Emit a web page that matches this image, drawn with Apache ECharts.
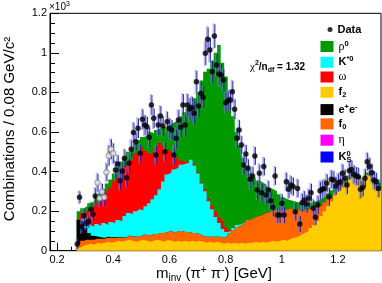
<!DOCTYPE html>
<html><head><meta charset="utf-8">
<script src="https://cdn.jsdelivr.net/npm/echarts@6/dist/echarts.min.js"></script>
<style>html,body{margin:0;padding:0;background:#fff}#c{width:382px;height:283px}</style>
</head><body><div id="c"></div>
<script>
// ---- histogram bin edges (GeV) ----
const binEdges = [0.27,0.2825,0.295,0.3075,0.32,0.3325,0.345,0.3575,0.37,0.3825,0.395,0.4075,0.42,0.4325,0.445,0.4575,0.47,0.4825,0.495,0.5075,0.52,0.5325,0.545,0.5575,0.57,0.5825,0.595,0.6075,0.62,0.6325,0.645,0.6575,0.67,0.6825,0.695,0.7075,0.72,0.7325,0.745,0.7575,0.77,0.7825,0.795,0.8075,0.82,0.8325,0.845,0.8575,0.87,0.8825,0.895,0.9075,0.92,0.9325,0.945,0.9575,0.97,0.9825,0.995,1.0075,1.02,1.0325,1.045,1.0575,1.07,1.0825,1.095,1.1075,1.12,1.1325,1.145,1.1575,1.17,1.1825,1.195,1.2075,1.22,1.2325,1.245,1.2575,1.27,1.2825,1.295,1.3075,1.32,1.3325,1.345,1.3575];

// ---- stacked MC components (x10^3 per bin) ----
const f2Vals = [0.015,0.025,0.03,0.035,0.03,0.04,0.035,0.04,0.045,0.04,
 0.045,0.05,0.045,0.05,0.055,0.05,0.045,0.05,0.055,0.05,
 0.045,0.05,0.055,0.05,0.045,0.055,0.05,0.045,0.05,0.045,
 0.05,0.045,0.05,0.045,0.05,0.045,0.04,0.045,0.04,0.045,
 0.04,0.035,0.04,0.035,0.04,0.035,0.04,0.035,0.04,0.04,
 0.045,0.04,0.045,0.04,0.045,0.05,0.045,0.05,0.055,0.05,
 0.06,0.065,0.07,0.08,0.09,0.1,0.115,0.13,0.15,0.175,
 0.2,0.225,0.25,0.28,0.3,0.32,0.34,0.36,0.38,0.375,
 0.36,0.33,0.38,0.37,0.335,0.32,0.31];
const f0Vals = [0.02,0.025,0.025,0.02,0.025,0.02,0.025,0.02,0.02,0.025,
 0.02,0.015,0.02,0.015,0.02,0.02,0.025,0.02,0.025,0.03,
 0.03,0.035,0.03,0.04,0.045,0.04,0.05,0.045,0.05,0.055,
 0.045,0.05,0.04,0.045,0.035,0.03,0.03,0.025,0.03,0.025,
 0.03,0.03,0.035,0.055,0.065,0.085,0.09,0.105,0.115,0.12,
 0.125,0.135,0.135,0.15,0.15,0.15,0.16,0.16,0.15,0.16,
 0.155,0.14,0.14,0.12,0.115,0.11,0.1,0.09,0.075,0.055,
 0.045,0.035,0.02,0.015,0.01,0.008,0.006,0.005,0.005,0.004,
 0.004,0.003,0.003,0.003,0.002,0.002,0.002];
const eeVals = [0.12,0.1,0.06,0.035,0.02,0.012,0.008,0.006,0.005,0.004,
 0.004,0.003,0.003,0.002,0.002,0.002,0.001,0.001,0.001,0.001,
 0,0,0,0,0,0,0,0,0,0, 0,0,0,0,0,0,0,0,0,0, 0,0,0,0,0,0,0,0,0,0,
 0,0,0,0,0,0,0,0,0,0, 0,0,0,0,0,0,0,0,0,0, 0,0,0,0,0,0,0,0,0,0,
 0,0,0,0,0,0,0];
const kstarVals = [0,0.01,0.025,0.04,0.045,0.063,0.057,0.074,0.06,0.076,
 0.071,0.087,0.082,0.108,0.113,0.113,0.129,0.139,0.124,0.144,
 0.165,0.175,0.195,0.22,0.26,0.29,0.295,0.32,0.32,0.335,
 0.345,0.35,0.37,0.34,0.305,0.265,0.23,0.18,0.14,0.1,
 0.07,0.045,0.02,0.01,0.01,0.01,0.005,0.005,0,0,
 0,0,0,0,0,0,0,0,0,0, 0,0,0,0,0,0,0,0,0,0, 0,0,0,0,0,0,0,0,0,0,
 0,0,0,0,0,0,0];
const omegaVals = [0.005,0.03,0.06,0.08,0.1,0.105,0.13,0.14,0.17,0.175,
 0.21,0.215,0.26,0.255,0.25,0.275,0.29,0.29,0.315,0.28,
 0.25,0.24,0.235,0.235,0.18,0.125,0.105,0.075,0.05,0.02,
 0.01,0.005,0,0.005,0.005,0.005,0.01,0.015,0.02,0.03,
 0.03,0.04,0.025,0.005,0,0,0,0,0,0,
 0,0,0,0,0,0,0,0,0,0, 0,0,0,0,0,0,0,0,0,0, 0,0,0,0,0,0,0,0,0,0,
 0,0,0,0,0,0,0];
const rhoVals = [0.04,0.025,0.025,0.03,0.03,0.035,0.035,0.03,0.04,0.04,
 0.04,0.05,0.04,0.04,0.06,0.05,0.05,0.06,0.055,0.075,
 0.11,0.095,0.095,0.075,0.095,0.12,0.14,0.165,0.19,0.225,
 0.25,0.27,0.28,0.335,0.405,0.515,0.595,0.655,0.73,0.8,
 0.87,0.8,0.76,0.675,0.565,0.47,0.395,0.325,0.275,0.23,
 0.2,0.18,0.165,0.145,0.125,0.11,0.095,0.075,0.065,0.05,
 0.04,0.045,0.035,0.04,0.04,0.03,0.03,0.03,0.03,0.035,
 0.03,0.03,0.035,0.025,0.025,0.022,0.019,0.015,0.015,0.016,
 0.016,0.017,0.012,0.017,0.023,0.023,0.03];

// ---- data points (x10^3) ----
const dataX = [0.272,0.28,0.288,0.296,0.304,0.312,0.32,0.328,0.336,
 0.408,0.416,0.424,0.432,0.44,0.448,0.456,0.464,0.472,0.48,
 0.488,0.496,0.504,0.512,0.52,0.528,0.536,0.544,0.552,0.56,
 0.568,0.576,0.584,0.592,0.6,0.608,0.616,0.624,0.632,0.64,
 0.648,0.656,0.664,0.672,0.68,0.688,0.696,0.704,0.712,0.72,
 0.728,0.736,0.744,0.752,0.76,0.768,0.776,0.784,0.792,0.8,
 0.808,0.816,0.824,0.832,0.84,0.848,0.856,0.864,0.872,0.88,
 0.888,0.896,0.904,0.912,0.92,0.928,0.936,0.944,0.952,0.96,
 0.968,0.976,0.984,0.992,1.0,1.008,1.016,1.024,1.032,1.04,
 1.048,1.056,1.064,1.072,1.08,1.088,1.096,1.104,1.112,1.12,
 1.128,1.136,1.144,1.152,1.16,1.168,1.176,1.184,1.192,1.2,
 1.208,1.216,1.224,1.232,1.24,1.248,1.256,1.264,1.272,1.28,
 1.288,1.296,1.304,1.312,1.32,1.328,1.336,1.344];
const dataY = [0.034,0.27,0.121,0.177,0.138,0.147,0.209,0.184,0.277,
 0.408,0.438,0.354,0.403,0.467,0.369,0.442,0.513,0.597,0.551,
 0.619,0.492,0.664,0.635,0.627,0.573,0.737,0.669,0.484,0.635,
 0.681,0.63,0.5,0.652,0.619,0.61,0.484,0.568,0.661,0.624,
 0.737,0.635,0.737,0.716,0.723,0.695,0.854,0.732,0.796,0.776,
 0.998,1.069,1.015,0.905,1.085,0.939,0.893,0.888,0.863,0.748,
 0.758,0.762,0.804,0.715,0.568,0.61,0.534,0.433,0.489,0.417,
 0.361,0.378,0.479,0.307,0.391,0.293,0.425,0.282,0.307,0.253,
 0.219,0.378,0.18,0.18,0.24,0.18,0.349,0.31,0.332,0.324,
 0.197,0.315,0.135,0.243,0.256,0.236,0.265,0.293,0.214,0.169,
 0.231,0.303,0.31,0.315,0.341,0.273,0.361,0.357,0.327,0.344,
 0.349,0.391,0.366,0.332,0.404,0.411,0.386,0.378,0.374,0.31,
 0.32,0.366,0.45,0.425,0.394,0.357,0.349,0.315];
const dataErr = [0.025,0.03,0.03,0.03,0.03,0.03,0.035,0.035,0.04,
 0.045,0.045,0.045,0.045,0.045,0.045,0.045,0.045,0.05,0.045,
 0.05,0.045,0.05,0.05,0.05,0.05,0.05,0.05,0.045,0.05,
 0.05,0.05,0.045,0.05,0.05,0.05,0.045,0.05,0.05,0.05,
 0.055,0.055,0.055,0.055,0.055,0.055,0.055,0.055,0.055,0.055,
 0.06,0.06,0.06,0.055,0.06,0.055,0.055,0.055,0.055,0.05,
 0.05,0.05,0.055,0.05,0.05,0.05,0.045,0.045,0.045,0.045,
 0.045,0.045,0.045,0.045,0.045,0.045,0.045,0.045,0.045,0.045,
 0.045,0.045,0.04,0.04,0.045,0.04,0.045,0.045,0.045,0.045,
 0.045,0.045,0.04,0.045,0.045,0.045,0.045,0.045,0.045,0.04,
 0.045,0.045,0.045,0.045,0.045,0.045,0.045,0.045,0.045,0.045,
 0.045,0.045,0.045,0.045,0.045,0.045,0.045,0.045,0.045,0.045,
 0.045,0.045,0.045,0.045,0.045,0.045,0.045,0.045];
// open (grey) markers
const openX = [0.344,0.352,0.36,0.368,0.376,0.384,0.392,0.4];
const openY = [0.344,0.265,0.298,0.27,0.396,0.48,0.513,0.492];
const openErr = [0.045,0.04,0.04,0.04,0.045,0.05,0.05,0.05];

// ---- axis ticks ----
const xMajor = [0.2,0.4,0.6,0.8,1.0,1.2];
const xMinor = [0.25,0.3,0.35,0.45,0.5,0.55,0.65,0.7,0.75,0.85,0.9,0.95,1.05,1.1,1.15,1.25,1.3,1.35];
const xMin = 0.175, xMax = 1.353;

const colors = {rho:'#009900', Kstar:'#00ffff', omega:'#ff0000', f2:'#ffcc00', ee:'#000000', f0:'#ff6600', eta:'#ff00ff', K0S:'#0000ff'};

// stack order bottom -> top; cumulative tops built from the component arrays
const stackOrder = ['f2','f0','ee','Kstar','omega','rho'];
const compVals = {f2:f2Vals, f0:f0Vals, ee:eeVals, Kstar:kstarVals, omega:omegaVals, rho:rhoVals};
const cumTops = {};
let running = binEdges.map(() => 0);
stackOrder.forEach(n => {
  const v = compVals[n];
  running = running.map((r, i) => r + v[Math.min(i, v.length - 1)]);
  cumTops[n] = running.slice();
});
// draw the tallest cumulative first so lower components paint over it
const stackSeries = stackOrder.slice().reverse().map(name => ({
  name, type:'line', step:'end', data: binEdges.map((e, i) => [e, cumTops[name][i]]),
  symbol:'none', showSymbol:false, silent:true, z:1,
  lineStyle:{width:0, color:colors[name]}, itemStyle:{color:colors[name]},
  areaStyle:{color:colors[name], opacity:1, origin:'start'}, emphasis:{disabled:true}
}));
const emptySeries = ['eta','K0S'].map(name => ({
  name, type:'line', data:[], symbol:'none', lineStyle:{width:0,color:colors[name]},
  itemStyle:{color:colors[name]}, areaStyle:{color:colors[name]}
}));

const errData = dataX.map((x,i)=>[x, dataY[i], dataErr[i]]).concat(openX.map((x,i)=>[x, openY[i], openErr[i]]));

const fmt = v => String(Math.round(v*10)/10);

const rich = {
  b:{fontFamily:'Liberation Sans', fontSize:11, fontWeight:'bold', lineHeight:14, color:'#000'},
  g:{fontFamily:'Liberation Serif', fontSize:12, fontWeight:'normal', lineHeight:14, color:'#000'},
  sup:{fontFamily:'Liberation Sans', fontSize:7.5, fontWeight:'bold', lineHeight:8, verticalAlign:'top', color:'#000'},
  sub:{fontFamily:'Liberation Sans', fontSize:7.5, fontWeight:'bold', lineHeight:8, verticalAlign:'bottom', color:'#000'},
  z:{fontFamily:'Liberation Sans', fontSize:7.5, fontWeight:'bold', lineHeight:8, verticalAlign:'top', color:'#000', width:0.01}
};
const legendRows = [
  {name:'Data', label:'{b|Data}', y:31, icon:'circle', w:5, h:5, left:327.5},
  {name:'rho', label:'{g|ρ}{sup|0}', y:46.5},
  {name:'Kstar', label:'{b|K}{sup|*0}', y:62.3},
  {name:'omega', label:'{g|ω}', y:78},
  {name:'f2', label:'{b|f}{sub|2}', y:93.8},
  {name:'ee', label:'{b|e}{sup|+}{b|e}{sup|-}', y:109.6},
  {name:'f0', label:'{b|f}{sub|0}', y:125.4},
  {name:'eta', label:'{g|η}', y:141.2},
  {name:'K0S', label:'{b|K}{z|0}{sub|S}', y:157}
];
const legends = legendRows.map(r => ({
  data:[{name:r.name, icon:r.icon || 'rect'}],
  left: r.left || 320.5, top: r.y - 7, padding:0, itemGap:0,
  itemWidth: r.w || 13, itemHeight: r.h || 11, selectedMode:false,
  itemStyle:{borderWidth:0},
  formatter: () => r.label,
  textStyle:{fontFamily:'Liberation Sans', fontSize:11, fontWeight:'bold', color:'#000', rich}
}));

const chart = echarts.init(document.getElementById('c'), null, {renderer:'canvas'});
chart.setOption({
  animation:false,
  backgroundColor:'#fff',
  grid:{left:50, right:1, top:13.3, bottom:32.3, show:true, borderColor:'#000', borderWidth:1, backgroundColor:'transparent'},
  legend: legends,
  xAxis:[{
    type:'value', min:xMin, max:xMax,
    axisLine:{show:true, onZero:false, lineStyle:{color:'#000', width:1}},
    axisTick:{show:true, inside:true, length:8, customValues:xMajor, lineStyle:{color:'#000'}},
    axisLabel:{show:true, customValues:xMajor, formatter:fmt, color:'#000', fontSize:11, fontFamily:'Liberation Sans', margin:4},
    splitLine:{show:false}
  },{
    type:'value', min:xMin, max:xMax, position:'bottom',
    axisLine:{show:false}, axisLabel:{show:false},
    axisTick:{show:true, inside:true, length:4, customValues:xMinor, lineStyle:{color:'#000'}},
    splitLine:{show:false}
  }],
  yAxis:{
    type:'value', min:0, max:1.2, interval:0.2,
    axisLine:{show:true, lineStyle:{color:'#000', width:1}},
    axisTick:{show:true, inside:true, length:9, lineStyle:{color:'#000'}},
    minorTick:{show:true, splitNumber:4, length:5, lineStyle:{color:'#000'}},
    axisLabel:{formatter:fmt, color:'#000', fontSize:11, fontFamily:'Liberation Sans', margin:3},
    splitLine:{show:false}
  },
  series: stackSeries.concat(emptySeries, [
    {
      type:'custom', name:'errors', data:errData, z:3, silent:true, clip:true,
      encode:{x:0, y:1},
      renderItem:(params, api) => {
        const x = api.value(0), y = api.value(1), e = api.value(2);
        const t = api.coord([x, y + e]);
        const b = api.coord([x, y - e]);
        return {type:'group', children:[
          {type:'line', shape:{x1:t[0]-0.8, y1:t[1]-1, x2:b[0]-0.8, y2:b[1]+1}, style:{stroke:'rgba(125,125,220,0.55)', lineWidth:1.8}},
          {type:'line', shape:{x1:t[0]+0.5, y1:t[1], x2:b[0]+0.5, y2:b[1]}, style:{stroke:'#1f1fa0', lineWidth:1}}
        ]};
      }
    },
    {type:'scatter', name:'Data', data:dataX.map((x,i)=>[x, dataY[i]]), symbol:'circle', symbolSize:5.5, itemStyle:{color:'#000'}, z:5, silent:true},
    {type:'scatter', name:'Data (open)', data:openX.map((x,i)=>[x, openY[i]]), symbol:'circle', symbolSize:5.5, itemStyle:{color:'#ececec', borderColor:'#777', borderWidth:1}, z:5, silent:true}
  ]),
  graphic:{elements:[
    {type:'text', x:10, y:129, rotation:Math.PI/2, silent:true,
     style:{text:'Combinations / 0.08 GeV/c²', fontFamily:'Liberation Sans', fontSize:15, fill:'#000', align:'center', verticalAlign:'middle'}},
    {type:'text', x:272, y:274, silent:true,
     style:{text:'{t|m}{s|inv}{t| (π}{p|+}{t| π}{p|-}{t|) [GeV]}', align:'right', verticalAlign:'middle',
       rich:{t:{fontFamily:'Liberation Sans', fontSize:15, lineHeight:18, fill:'#000'},
             s:{fontFamily:'Liberation Sans', fontSize:10, lineHeight:10, verticalAlign:'bottom', fill:'#000'},
             p:{fontFamily:'Liberation Sans', fontSize:10, lineHeight:10, verticalAlign:'top', fill:'#000'}}}},
    {type:'text', x:49, y:7, silent:true,
     style:{text:'{a|×10}{s|3}', align:'left', verticalAlign:'middle',
       rich:{a:{fontFamily:'Liberation Sans', fontSize:10, lineHeight:12, fill:'#000'},
             s:{fontFamily:'Liberation Sans', fontSize:7, lineHeight:7, verticalAlign:'top', fill:'#000'}}}},
    {type:'text', x:250, y:67, silent:true,
     style:{text:'{g|χ}{sup|2}{b|/n}{sub|df}{b| = 1.32}', align:'left', verticalAlign:'middle',
       rich:{g:{fontFamily:'Liberation Serif', fontSize:11, lineHeight:14, fill:'#000'},
             b:{fontFamily:'Liberation Sans', fontSize:10, fontWeight:'bold', lineHeight:14, fill:'#000'},
             sup:{fontFamily:'Liberation Sans', fontSize:7, fontWeight:'bold', lineHeight:7, verticalAlign:'top', fill:'#000'},
             sub:{fontFamily:'Liberation Sans', fontSize:7, fontWeight:'bold', lineHeight:7, verticalAlign:'bottom', fill:'#000'}}}}
  ]}
});
</script></body></html>
